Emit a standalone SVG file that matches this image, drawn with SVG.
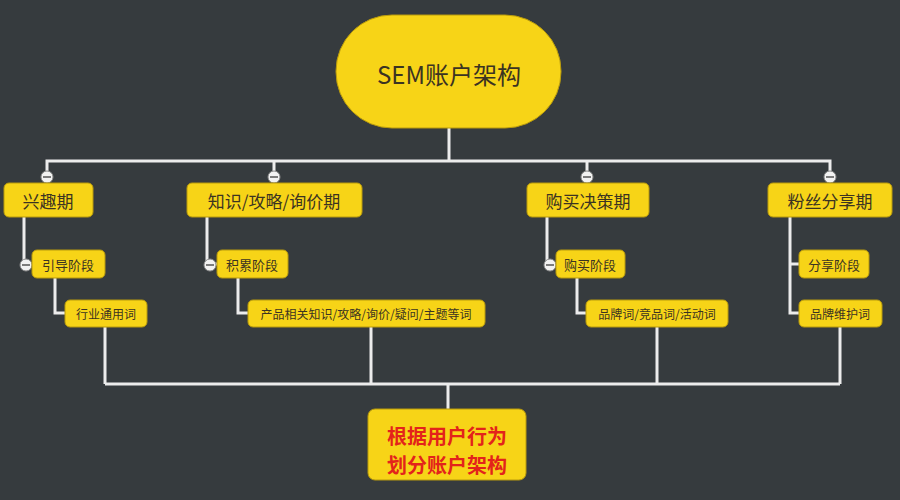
<svg xmlns="http://www.w3.org/2000/svg" width="900" height="500" viewBox="0 0 900 500">
<style>
  .node { fill: #f7d417; stroke: #b89a0c; stroke-width: 1; }
  .t { font-family: "Noto Sans CJK SC", "Noto Sans", sans-serif; fill: #3b3322; text-anchor: middle; dominant-baseline: central; }
  .l1 { font-size: 17px; }
  .l2 { font-size: 13px; }
  .l3 { font-size: 12px; }
  .red { font-family: "Noto Sans CJK SC", sans-serif; font-weight: bold; fill: #e3231b; font-size: 20px; text-anchor: middle; dominant-baseline: central; }
  .conn { fill: none; stroke: #ececec; stroke-width: 3; }
  .tog circle { fill: #f2f2f2; stroke: #8a8a8a; stroke-width: 1; }
  .tog line { stroke: #555; stroke-width: 1.5; }
</style>
<rect width="900" height="500" fill="#363b3e"/>

<g id="connectors">
  <path class="conn" d="M449 128 V161 M47 176 V161 H830 V176 M274 161 V176 M587 161 V176"/>
  <path class="conn" d="M24 217 V264 H32 M55 278 V313 H65"/>
  <path class="conn" d="M207 217 V264 H217 M238 278 V313 H248"/>
  <path class="conn" d="M547 217 V264 H556 M577 278 V313 H586"/>
  <path class="conn" d="M790 217 V313 H799 M790 264 H799"/>
  <path class="conn" d="M105 327 V384 M371 327 V384 M657 327 V384 M840 327 V384 M105 384 H840 M448 384 V409"/>
</g>

<g id="toggles" class="tog">
  <g><circle cx="47" cy="177" r="6"/><line x1="43" y1="177" x2="51" y2="177"/></g>
  <g><circle cx="274" cy="177" r="6"/><line x1="270" y1="177" x2="278" y2="177"/></g>
  <g><circle cx="587" cy="177" r="6"/><line x1="583" y1="177" x2="591" y2="177"/></g>
  <g><circle cx="830" cy="177" r="6"/><line x1="826" y1="177" x2="834" y2="177"/></g>
  <g><circle cx="26" cy="265" r="6"/><line x1="22" y1="265" x2="30" y2="265"/></g>
  <g><circle cx="210" cy="265" r="6"/><line x1="206" y1="265" x2="214" y2="265"/></g>
  <g><circle cx="550" cy="265" r="6"/><line x1="546" y1="265" x2="554" y2="265"/></g>
</g>

<g id="root">
  <rect class="node" x="336" y="15" width="225" height="113" rx="56"/>
  <text class="t" x="449" y="73" font-size="24">SEM账户架构</text>
</g>

<g id="interest">
  <rect class="node" x="4" y="183" width="89" height="34" rx="5"/>
  <text class="t l1" x="48" y="200">兴趣期</text>
</g>
<g id="knowledge">
  <rect class="node" x="187" y="183" width="175" height="34" rx="5"/>
  <text class="t l1" x="274" y="200">知识/攻略/询价期</text>
</g>
<g id="purchase">
  <rect class="node" x="527" y="183" width="122" height="34" rx="5"/>
  <text class="t l1" x="588" y="200">购买决策期</text>
</g>
<g id="share">
  <rect class="node" x="768" y="183" width="124" height="34" rx="5"/>
  <text class="t l1" x="830" y="200">粉丝分享期</text>
</g>

<g id="guide">
  <rect class="node" x="32" y="250" width="73" height="28" rx="5"/>
  <text class="t l2" x="68" y="264">引导阶段</text>
</g>
<g id="accumulate">
  <rect class="node" x="217" y="250" width="71" height="28" rx="5"/>
  <text class="t l2" x="252" y="264">积累阶段</text>
</g>
<g id="buy">
  <rect class="node" x="556" y="250" width="69" height="28" rx="5"/>
  <text class="t l2" x="590" y="264">购买阶段</text>
</g>
<g id="sharestage">
  <rect class="node" x="799" y="250" width="70" height="28" rx="5"/>
  <text class="t l2" x="834" y="264">分享阶段</text>
</g>

<g id="industry">
  <rect class="node" x="65" y="300" width="82" height="27" rx="5"/>
  <text class="t l3" x="106" y="313">行业通用词</text>
</g>
<g id="product">
  <rect class="node" x="248" y="300" width="237" height="27" rx="5"/>
  <text class="t l3" x="366" y="313">产品相关知识/攻略/询价/疑问/主题等词</text>
</g>
<g id="brand">
  <rect class="node" x="586" y="300" width="142" height="27" rx="5"/>
  <text class="t l3" x="657" y="313">品牌词/竞品词/活动词</text>
</g>
<g id="brandcare">
  <rect class="node" x="799" y="300" width="83" height="27" rx="5"/>
  <text class="t l3" x="840" y="313">品牌维护词</text>
</g>

<g id="summary">
  <rect class="node" x="368" y="409" width="158" height="71" rx="7"/>
  <text class="red" x="447" y="435">根据用户行为</text>
  <text class="red" x="447" y="464">划分账户架构</text>
</g>
</svg>
